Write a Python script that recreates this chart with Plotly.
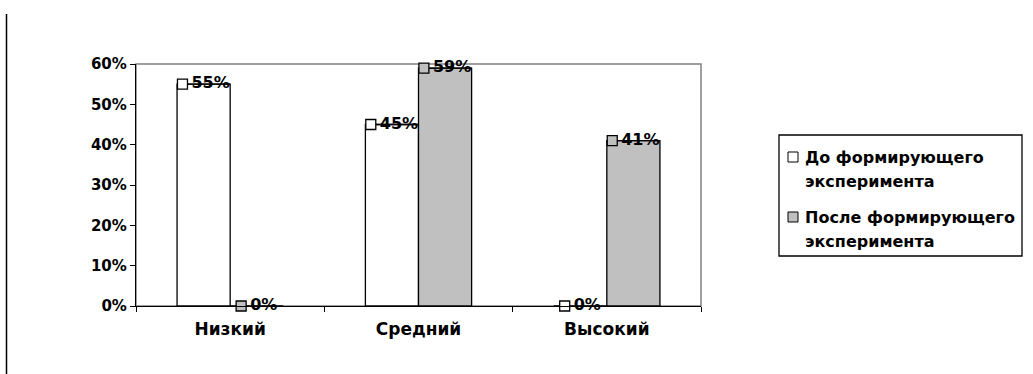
import plotly.graph_objects as go

# --- data -------------------------------------------------------------
categories = ["Низкий", "Средний", "Высокий"]
series_names = ["До формирующего эксперимента", "После формирующего эксперимента"]
legend_lines = [["До формирующего", "эксперимента"], ["После формирующего", "эксперимента"]]
before = [0.55, 0.45, 0.00]
after = [0.00, 0.59, 0.41]
y_tick_values = [0.0, 0.1, 0.2, 0.3, 0.4, 0.5, 0.6]

# --- layout constants -------------------------------------------------
FIG_W, FIG_H = 1033, 374
L, R, T, B = 136, 332, 64, 68
PW = FIG_W - L - R
PH = FIG_H - T - B
BARGAP = 0.436
FONT = "DejaVu Sans"
FS = 16
FILLS = ["#FFFFFF", "#C0C0C0"]
EDGE = 1.3
SQ = 10          # size of the colour key square inside labels / legend
SQ_GAP = 4       # gap between key square and label text

def px2x(px):
    return (px - L) / PW

def py2y(py):
    return (FIG_H - B - py) / PH

series_values = [before, after]
n_cat = len(categories)
n_ser = len(series_values)
bar_w = (1 - BARGAP) / n_ser
px_per_unit = PW / n_cat

fig = go.Figure()

for name, vals, color in zip(series_names, series_values, FILLS):
    fig.add_bar(
        x=categories, y=vals, name=name, showlegend=False,
        marker=dict(color=color, line=dict(color="black", width=EDGE)),
    )

# value labels: key square + percentage, centred over each bar
def text_width(s):
    w = 0.0
    for ch in s:
        w += 1.002 if ch == "%" else 0.696
    return w * FS

lab_x, lab_y, lab_t = [], [], []
sq_x, sq_y, sq_c = [], [], []
top_x, top_y = [], []
for s, vals in enumerate(series_values):
    for i, v in enumerate(vals):
        c = i + (s - (n_ser - 1) / 2) * bar_w
        t = f"{round(v * 100)}%"
        tw = text_width(t)
        total = SQ + SQ_GAP + tw
        lab_x.append(c + 7 / px_per_unit)
        lab_y.append(v)
        lab_t.append(t)
        sq_x.append(c + (-total / 2 + SQ / 2) / px_per_unit)
        sq_y.append(v)
        sq_c.append(FILLS[s])
        if v > 0:
            top_x += [c - bar_w / 2, c + bar_w / 2, None]
            top_y += [v, v, None]

fig.add_scatter(
    x=lab_x, y=lab_y, text=lab_t, mode="text", xaxis="x2",
    textposition="middle center", cliponaxis=False, showlegend=False,
    textfont=dict(family=FONT, size=FS, color="black", weight="bold"),
    hoverinfo="skip",
)
fig.add_scatter(
    x=top_x, y=top_y, mode="lines", xaxis="x2", cliponaxis=False,
    line=dict(color="black", width=EDGE), showlegend=False, hoverinfo="skip",
)
fig.add_scatter(
    x=sq_x, y=sq_y, mode="markers", xaxis="x2", cliponaxis=False,
    marker=dict(symbol="square", size=SQ, color=sq_c,
                line=dict(color="black", width=EDGE)),
    showlegend=False, hoverinfo="skip",
)

# plot-area frame (top/right in grey; left/bottom come from the axes)
shapes = [
    dict(type="rect", xref="paper", yref="paper", x0=0, x1=1, y0=0, y1=1,
         line=dict(color="#808080", width=1.5), layer="below"),
    dict(type="line", xref="paper", yref="paper",
         x0=px2x(6.5), x1=px2x(6.5), y0=py2y(14), y1=py2y(374),
         line=dict(color="black", width=1.5)),
    # legend box
    dict(type="rect", xref="paper", yref="paper",
         x0=px2x(779), x1=px2x(1022), y0=py2y(256), y1=py2y(135),
         line=dict(color="black", width=1.3), fillcolor="white"),
]
annotations = []
item_y = [157, 217]
for s in range(n_ser):
    cy = item_y[s]
    shapes.append(dict(
        type="rect", xref="paper", yref="paper",
        x0=px2x(788), x1=px2x(788 + SQ), y0=py2y(cy + SQ / 2), y1=py2y(cy - SQ / 2),
        line=dict(color="black", width=1), fillcolor=FILLS[s],
    ))
    for k, line in enumerate(legend_lines[s]):
        annotations.append(dict(
            xref="paper", yref="paper", x=px2x(803), y=py2y(cy + 24 * k),
            xanchor="left", yanchor="middle", text=line, showarrow=False,
            font=dict(family=FONT, size=FS, color="black", weight="bold"),
        ))

fig.update_layout(
    width=FIG_W, height=FIG_H,
    margin=dict(l=L, r=R, t=T, b=B, pad=0),
    paper_bgcolor="white", plot_bgcolor="white",
    barmode="group", bargap=BARGAP, bargroupgap=0,
    showlegend=False,
    font=dict(family=FONT, size=FS, color="black"),
    shapes=shapes, annotations=annotations,
    xaxis=dict(
        type="category", showline=True, linecolor="black", linewidth=EDGE,
        ticks="outside", tickson="boundaries", ticklen=5, tickcolor="black",
        tickwidth=1, showgrid=False, zeroline=False, fixedrange=True,
        tickfont=dict(family=FONT, size=FS + 1, color="black", weight="bold"),
        ticklabelstandoff=7,
        range=[-0.5, n_cat - 0.5],
    ),
    xaxis2=dict(
        overlaying="x", range=[-0.5, n_cat - 0.5], visible=False, fixedrange=True,
    ),
    yaxis=dict(
        range=[0, 0.6], tickvals=y_tick_values, tickformat=".0%",
        showline=True, linecolor="black", linewidth=EDGE,
        ticks="outside", ticklen=5, tickcolor="black", tickwidth=1,
        showgrid=False, zeroline=False, fixedrange=True,
        tickfont=dict(family=FONT, size=FS - 1, color="black", weight="bold"),
    ),
)

fig.write_html("out.html")
